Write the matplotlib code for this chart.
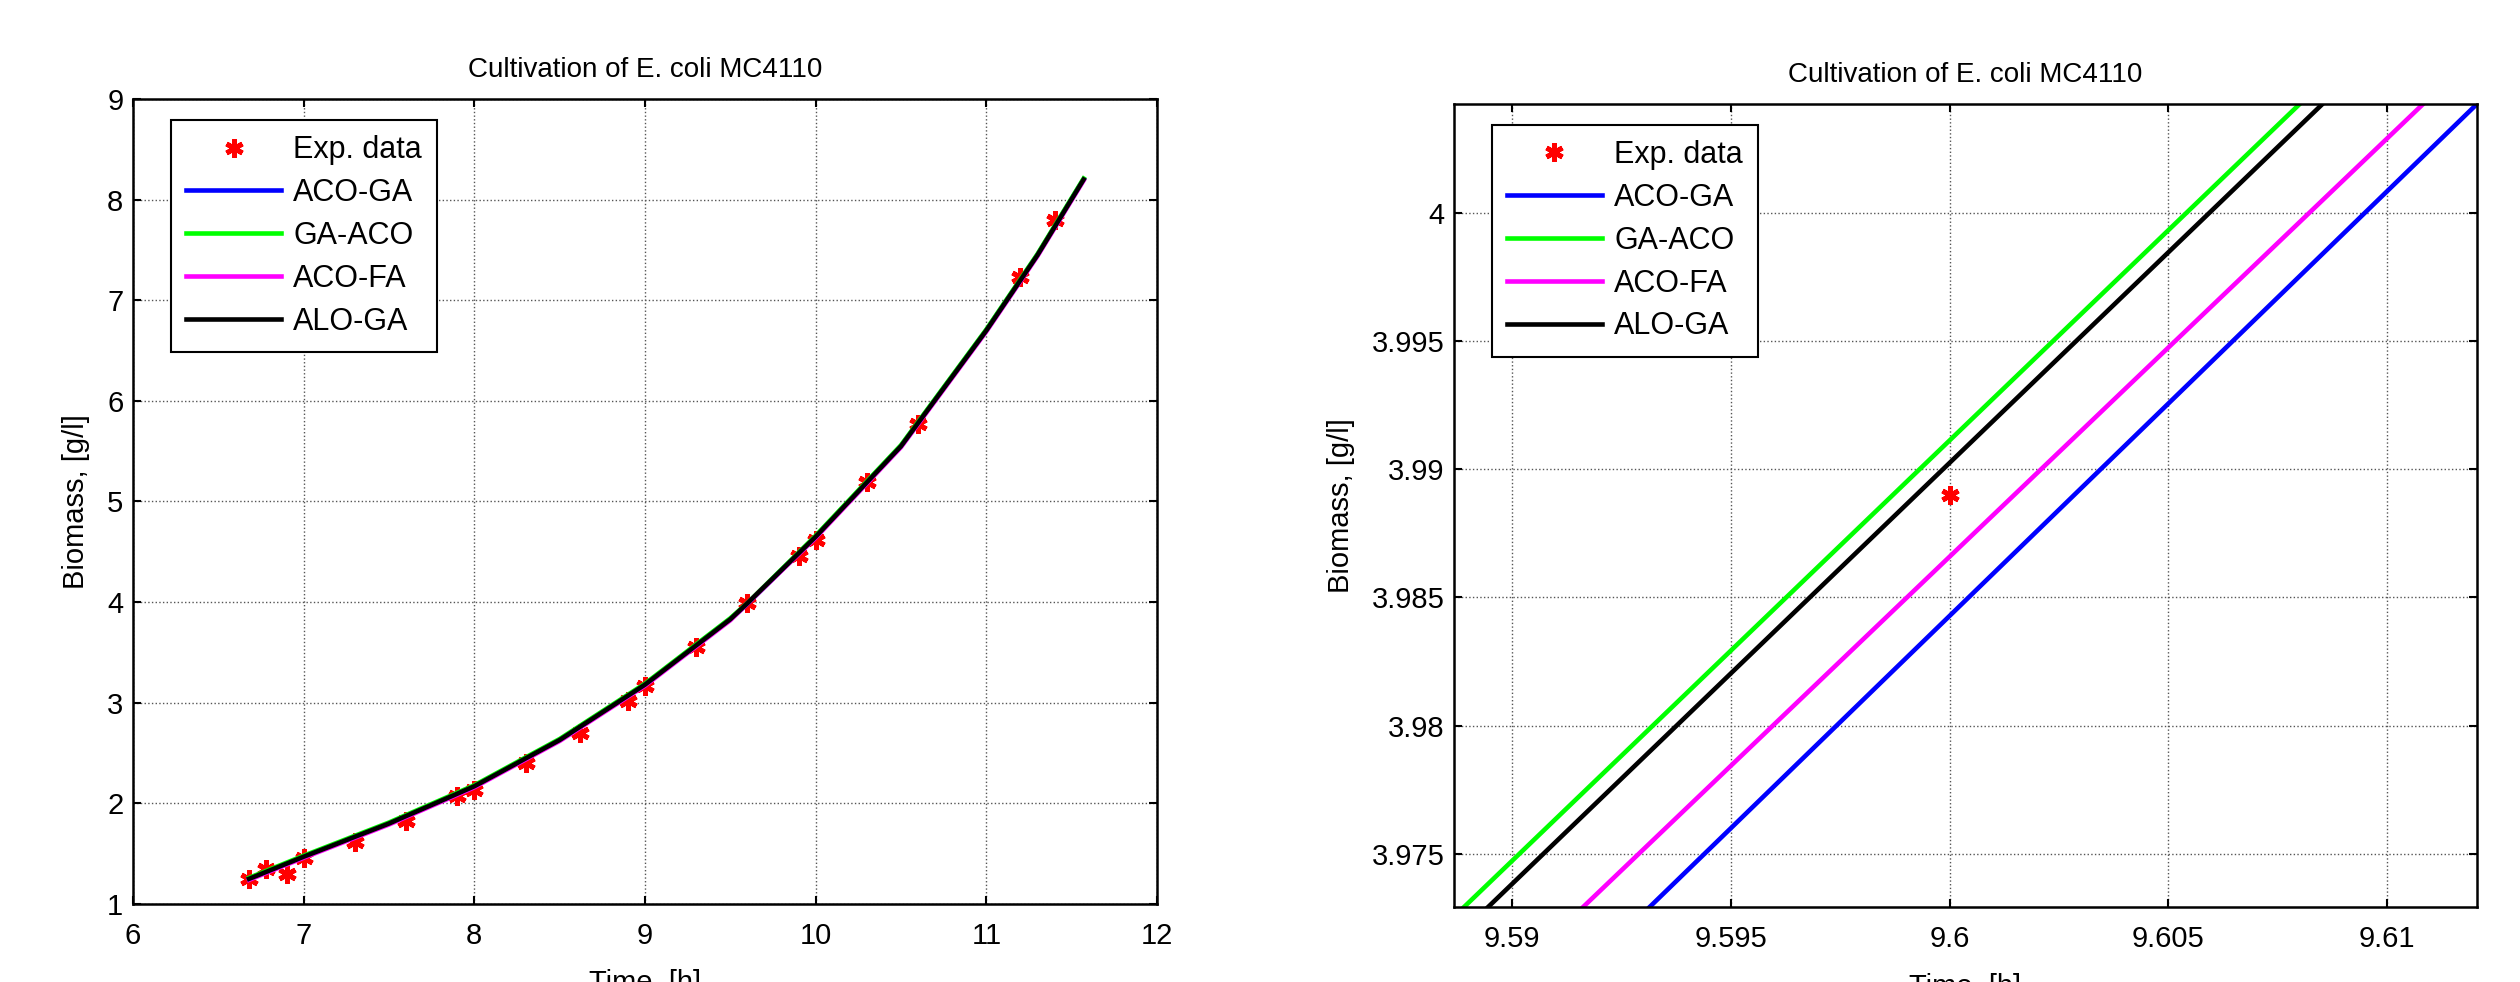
import matplotlib
matplotlib.use("Agg")
import matplotlib.pyplot as plt

plt.rcParams['font.family'] = ['Liberation Sans', 'DejaVu Sans']

# experimental data, E. coli MC4110
t_exp = [6.68, 6.78, 6.90, 7.00, 7.30, 7.60, 7.90, 8.00, 8.30, 8.62, 8.90,
         9.00, 9.30, 9.60, 9.90, 10.00, 10.30, 10.60, 11.20, 11.40]
x_exp = [1.25, 1.35, 1.30, 1.46, 1.62, 1.82, 2.07, 2.13, 2.40, 2.70, 3.02,
         3.17, 3.55, 3.989, 4.46, 4.62, 5.19, 5.77, 7.23, 7.80]

# model curves (practically identical on the full scale)
t_model = [6.68, 7.0, 7.5, 8.0, 8.5, 9.0, 9.5, 9.6, 10.0, 10.5, 11.0, 11.3, 11.57]
x_aco_ga = [1.25, 1.47, 1.80, 2.17, 2.63, 3.18, 3.83, 3.984, 4.65, 5.55, 6.70, 7.45, 8.20]
x_ga_aco = [1.26, 1.48, 1.81, 2.18, 2.64, 3.19, 3.84, 3.991, 4.66, 5.56, 6.71, 7.46, 8.21]
x_aco_fa = [1.24, 1.46, 1.79, 2.16, 2.62, 3.17, 3.82, 3.986, 4.64, 5.54, 6.69, 7.44, 8.19]
x_alo_ga = [1.25, 1.47, 1.80, 2.17, 2.63, 3.18, 3.83, 3.989, 4.65, 5.55, 6.70, 7.45, 8.20]

# zoomed segment around t = 9.6 h
zoom_x = [3.97293, 4.00424]
zoom_t_aco_ga = [9.59315, 9.61205]
zoom_t_ga_aco = [9.58891, 9.60800]
zoom_t_aco_fa = [9.59163, 9.61082]
zoom_t_alo_ga = [9.58946, 9.60852]
zoom_exp_t = [9.60]
zoom_exp_x = [3.989]

names = ['ACO-GA', 'GA-ACO', 'ACO-FA', 'ALO-GA']
colors = ['#0000ff', '#00ff00', '#ff00ff', '#000000']

left_xticks = [6, 7, 8, 9, 10, 11, 12]
left_yticks = [1, 2, 3, 4, 5, 6, 7, 8, 9]
right_xticks = [9.59, 9.595, 9.6, 9.605, 9.61]
right_xlabels = ['9.59', '9.595', '9.6', '9.605', '9.61']
right_yticks = [3.975, 3.98, 3.985, 3.99, 3.995, 4.0]
right_ylabels = ['3.975', '3.98', '3.985', '3.99', '3.995', '4']

FS = 21


def style_axes(ax):
    for s in ax.spines.values():
        s.set_linewidth(1.8)
        s.set_color('black')
    ax.tick_params(direction='in', length=6, width=1.5, top=True, right=True,
                   labelsize=FS)
    ax.tick_params(axis='x', pad=13)
    ax.tick_params(axis='y', pad=7)
    ax.grid(True, linestyle=':', color='#555555', linewidth=1.0)
    ax.set_axisbelow(True)
    ax.set_title('Cultivation of E. coli MC4110', fontsize=20, pad=16)
    ax.set_xlabel('Time, [h]', fontsize=FS, labelpad=14)
    ax.set_ylabel('Biomass, [g/l]', fontsize=FS, labelpad=12)


def add_legend(ax):
    leg = ax.legend(loc='upper left', bbox_to_anchor=(0.037, 0.974),
                    borderaxespad=0, fontsize=FS + 1, numpoints=1,
                    handlelength=3.1, handletextpad=0.4, labelspacing=0.42,
                    borderpad=0.5, fancybox=False, framealpha=1)
    leg.get_frame().set_edgecolor('black')
    leg.get_frame().set_linewidth(1.5)


fig = plt.figure(figsize=(25.2, 9.82), dpi=100)
ax1 = fig.add_axes([0.05278, 0.07943, 0.40635, 0.81976])
ax2 = fig.add_axes([0.57698, 0.07637, 0.40595, 0.81772])

# left: full run
ax1.plot(t_exp, x_exp, linestyle='none', marker=(6, 2, 0), markersize=13,
         markeredgewidth=3.5, color='red', label='Exp. data')
for xs, name, c in zip([x_aco_ga, x_ga_aco, x_aco_fa, x_alo_ga], names, colors):
    ax1.plot(t_model, xs, color=c, linewidth=3.3, label=name)
ax1.set_xlim(6, 12)
ax1.set_ylim(1, 9)
ax1.set_xticks(left_xticks)
ax1.set_yticks(left_yticks)
style_axes(ax1)
add_legend(ax1)

# right: zoom
ax2.plot(zoom_exp_t, zoom_exp_x, linestyle='none', marker=(6, 2, 0), markersize=13,
         markeredgewidth=3.5, color='red', label='Exp. data')
for ts, name, c in zip([zoom_t_aco_ga, zoom_t_ga_aco, zoom_t_aco_fa, zoom_t_alo_ga],
                       names, colors):
    ax2.plot(ts, zoom_x, color=c, linewidth=3.3, label=name)
ax2.set_xlim(9.58868, 9.61205)
ax2.set_ylim(3.97293, 4.00424)
ax2.set_xticks(right_xticks)
ax2.set_xticklabels(right_xlabels)
ax2.set_yticks(right_yticks)
ax2.set_yticklabels(right_ylabels)
style_axes(ax2)
add_legend(ax2)

fig.savefig('out.png', dpi=100, facecolor='white')
